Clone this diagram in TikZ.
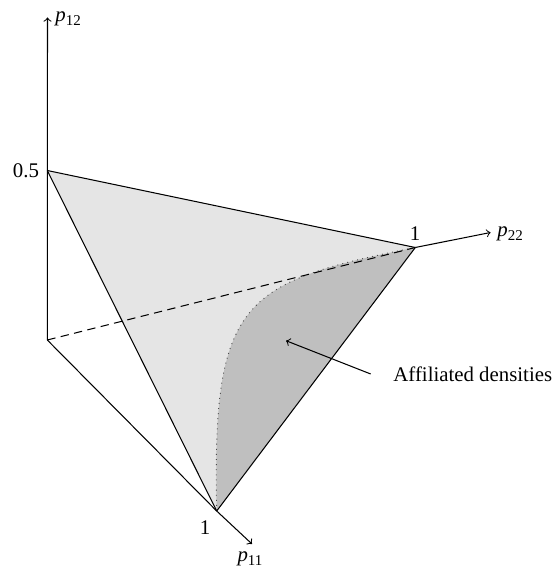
\documentclass[tikz,border=0pt]{standalone}
\usepackage{fontspec}
\setmainfont{Liberation Serif}
\newcommand{\pvar}[1]{\textit{p}\raisebox{-0.45ex}{\fontsize{7.2}{8}\selectfont #1}}
\tikzset{
  edge/.style={line width=0.5pt, black},
  axisarrow/.style={line width=0.5pt, black, ->},
  lbl/.style={inner sep=0pt, font=\fontsize{10}{12}\selectfont},
}
\begin{document}
\begin{tikzpicture}[x=0.48pt,y=-0.48pt]
\useasboundingbox (0,0) rectangle (556,572);
% key points
\coordinate (O) at (47.3,340);
\coordinate (Z) at (47.3,170.5);
\coordinate (B) at (415.3,247.5);
\coordinate (C) at (216.7,511);
\coordinate (Ztip) at (47.5,17.5);
\coordinate (Btip) at (490.5,232.5);
\coordinate (Ctip) at (252,544);
% light face
\fill[black!10] (Z) -- (B) -- (C) -- cycle;
% dark region
\fill[black!25] (C) .. controls (212,300) and (242,282) .. (B) -- cycle;
\draw[black!70, line width=0.45pt, dotted] (C) .. controls (212,300) and (242,282) .. (B);
% hidden axis
\draw[edge, dash pattern=on 4pt off 2.6pt] (O) -- (B);
% edges
\draw[edge] (Z) -- (B);
\draw[edge] (Z) -- (C);
\draw[edge] (C) -- (B);
\draw[edge] (O) -- (C);
% axes
\draw[axisarrow] (O) -- (Ztip);
\draw[axisarrow] (B) -- (Btip);
\draw[axisarrow] (C) -- (Ctip);
% labels
\node[lbl, anchor=west] (l12) at (55,18.5) {\pvar{12}};
\node[lbl, anchor=west] (l22) at (497,233.5) {\pvar{22}};
\node[lbl] (l11) at (250,558.5) {\pvar{11}};
\node[lbl] (half) at (26,171) {0.5};
\node[lbl] (oneB) at (415,234) {1};
\node[lbl] (oneC) at (205,528) {1};
\node[lbl, anchor=base west] (aff) at (393,381.5) {Affiliated densities};
\coordinate (affstart) at (370.7,374);
\coordinate (affend) at (286,340.7);
\draw[axisarrow] (affstart) -- (affend);
\end{tikzpicture}
\end{document}
